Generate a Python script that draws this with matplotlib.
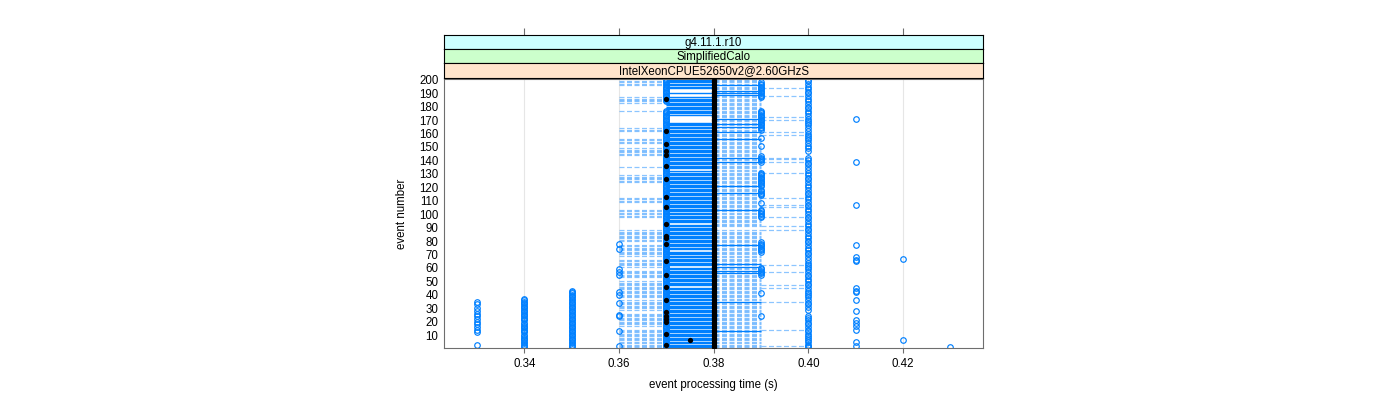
import matplotlib
matplotlib.use("Agg")
import matplotlib.pyplot as plt

plt.rcParams['font.family'] = ['Liberation Sans', 'DejaVu Sans']

# strip labels (outer to inner) and their colours
strip_labels = ['g4.11.1.r10', 'SimplifiedCalo', 'IntelXeonCPUE52650v2@2.60GHzS']
strip_colors = ['#ccffff', '#ccffcc', '#ffe5cc']

x_ticks = [0.34, 0.36, 0.38, 0.40, 0.42]
x_ticklabels = ['0.34', '0.36', '0.38', '0.40', '0.42']
y_ticks = [10, 20, 30, 40, 50, 60, 70, 80, 90, 100,
           110, 120, 130, 140, 150, 160, 170, 180, 190, 200]

# blue open circles: time (s) -> events, events given as single numbers or (first, last) runs
circ_times = [0.33, 0.34, 0.35, 0.36, 0.37, 0.38, 0.39, 0.40, 0.41, 0.42, 0.43]
circ_events = [
    [3, 12, 14, 16, 18, 20, 22, 24, 26, 28, 30, 33, 35],
    [(1, 10), (12, 19), (21, 37)],
    [(1, 43)],
    [2, 13, 24, 25, 34, 40, 42, 55, 57, 59, 74, 78],
    [(1, 177), (184, 200)],
    [25],
    [24, 41, (55, 60), (72, 79), (98, 102), 103, 108, (114, 118), (121, 131),
     (139, 143), 151, 157, (163, 177), (187, 198)],
    [1, 2, 3, 5, 6, 8, 9, 11, 13, 14, 16, 18, 19, 21, 23, 24, 29, 31, 33, 34, 36,
     38, 40, 41, 43, 45, 47, 48, 50, 52, 54, 55, 57, 59, 61, 62, 64, 66, 68, 70,
     71, 73, 75, 77, 79, 80, 82, 84, 86, 88, 89, 91, 93, 95, 97, 98, 100, 102,
     104, 106, 107, 109, 111, 113, 115, 116, 118, 120, 122, 124, 126, 127, 129,
     131, 133, 135, 137, 138, 140, 142, 147, 149, 151, 153, 155, 157, 158, 160,
     162, 164, 166, 168, 169, 171, 173, 175, 177, 179, 180, 182, 184, 186, 188,
     190, 191, 193, 195, 197, 199, 200],
    [2, 5, 14, 17, 19, 21, 28, 36, 42, 43, 45, 65, 66, 68, 77, 107, 139, 171],
    [6, 67],
    [1],
]

# dashed links between neighbouring time bins: (from, to) -> events
link_from = [0.36, 0.37, 0.38, 0.39]
link_to = [0.37, 0.38, 0.39, 0.40]
link_events = [
    [(1, 14), (17, 26), (29, 36), (38, 50), (53, 58), (61, 66), (69, 77), (80, 88),
     (98, 103), (109, 112), (124, 129), 135, (144, 149), (153, 156), (162, 164),
     177, (183, 187), (196, 199)],
    [(1, 45), (47, 60), (62, 72), (74, 92), (94, 132), (134, 168), (174, 187), 190, (194, 200)],
    [(1, 88), (91, 200)],
    [2, 14, 35, 45, 47, 57, 62, 88, 91, 98, 105, 107, 112, 131, 139, 141, 142,
     159, 161, 170, 172, 188, 194],
]
# solid links 0.38 -> 0.39
solid_038_039 = [13, 35, 56, 58, 61, 63, 77, 103, 116, 121, 139, 142, 156, 161,
                 165, 167, 171, 189, 190, 192, 196]

# black reference run
black_037 = [3, 11, 20, 22, 24, 27, 36, 46, 55, 65, 78, 82, 84, 93, 105, 113,
             126, 136, 144, 147, 152, 162, 186]
black_0375 = [6]
black_038 = [(1, 200)]

blue = '#0080ff'


def expand(spec):
    out = []
    for s in spec:
        if isinstance(s, tuple):
            out.extend(range(s[0], s[1] + 1))
        else:
            out.append(s)
    return out


fig = plt.figure(figsize=(14, 4), dpi=100)
ax = fig.add_axes([444 / 1400, 52 / 400, 539 / 1400, 269 / 400])

# vertical reference lines
for t in x_ticks:
    ax.axvline(t, color='#e6e6e6', lw=0.8, zorder=0)

# links
for a, b, spec in zip(link_from, link_to, link_events):
    ev = expand(spec)
    if a == 0.37:
        ax.hlines(ev, a, b, colors=blue, lw=1.0, zorder=1)
    else:
        ax.hlines(ev, a, b, colors=blue, lw=0.9, alpha=0.45,
                  linestyles=[(0, (4, 2))], zorder=1)
ax.hlines(solid_038_039, 0.38, 0.39, colors=blue, lw=0.9, zorder=1)

# open circles
for t, spec in zip(circ_times, circ_events):
    ev = expand(spec)
    ax.plot([t] * len(ev), ev, 'o', ls='none', mfc='none', mec=blue,
            ms=4.0, mew=0.85, zorder=2)

# black run
for t, spec in zip([0.38, 0.37, 0.375], [black_038, black_037, black_0375]):
    ev = expand(spec)
    ax.plot([t] * len(ev), ev, 'o', ls='none', color='black', ms=3.8, mew=0,
            zorder=3)

ax.set_xlim(0.3230, 0.4369)
ax.set_ylim(0.4, 200.6)
ax.set_xticks(x_ticks)
ax.set_xticklabels(x_ticklabels, fontsize=8.3)
ax.set_yticks(y_ticks)
ax.set_yticklabels([str(v) for v in y_ticks], fontsize=8.3)
ax.tick_params(axis='x', direction='out', length=3.5, width=0.8, color='#6e6e6e', pad=4)
ax.tick_params(axis='y', length=0, pad=4)
for sp in ax.spines.values():
    sp.set_color('#6e6e6e')
    sp.set_linewidth(0.8)
ax.set_xlabel('event processing time (s)', fontsize=8.3, labelpad=6)
ax.set_ylabel('event number', fontsize=8.3, labelpad=8)

# strips
strip_bounds = [(35, 49), (49, 63), (63, 78)]
for i, (lab, col, (top, bot)) in enumerate(zip(strip_labels, strip_colors, strip_bounds)):
    sax = fig.add_axes([444 / 1400, (400 - bot) / 400, 539 / 1400, (bot - top) / 400])
    sax.set_facecolor(col)
    sax.set_xlim(0.3230, 0.4369)
    sax.set_ylim(0, 1)
    sax.set_yticks([])
    for sp in sax.spines.values():
        sp.set_color('black')
        sp.set_linewidth(0.8)
    if i == 0:
        sax.xaxis.set_ticks_position('top')
        sax.set_xticks(x_ticks)
        sax.tick_params(axis='x', direction='out', length=5, width=0.8,
                        color='#6e6e6e', labeltop=False)
    else:
        sax.set_xticks([])
    sax.text(0.5, 0.45, lab, transform=sax.transAxes, ha='center', va='center',
             fontsize=8.3)

fig.savefig('out.png', dpi=100)
